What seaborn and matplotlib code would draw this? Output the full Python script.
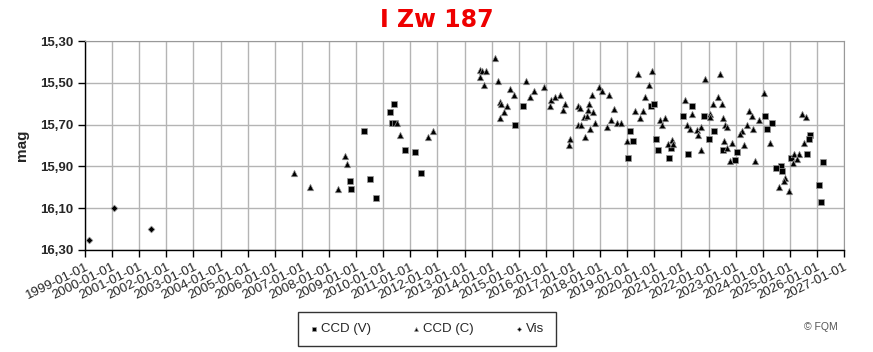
import pandas as pd
import matplotlib
matplotlib.use('Agg')
import matplotlib.pyplot as plt
import matplotlib.dates as mdates
from matplotlib.ticker import FuncFormatter, FixedLocator
import seaborn as sns

# CCD (V) squares
v_dates = ['2008-10-12', '2008-10-27', '2009-04-20', '2009-07-08', '2009-09-27',
           '2010-04-01', '2010-05-05', '2010-05-22', '2010-06-10', '2010-10-22',
           '2011-03-07', '2011-05-27', '2014-11-15', '2015-02-25', '2019-02-10',
           '2019-03-15', '2019-01-08', '2019-11-20', '2019-12-25', '2020-01-20',
           '2020-02-18', '2020-08-15', '2020-07-20', '2021-01-20', '2021-05-18',
           '2021-03-28', '2021-11-03', '2022-01-01', '2022-03-22', '2022-07-20',
           '2022-12-24', '2023-01-20', '2024-02-03', '2024-05-05', '2024-02-25',
           '2024-09-01', '2024-07-01', '2024-09-15', '2025-01-15', '2025-08-18',
           '2025-10-01', '2025-09-20', '2026-03-18', '2026-01-30', '2026-03-01']
v_mags = [15.97, 16.01, 15.73, 15.96, 16.05,
          15.64, 15.69, 15.60, 15.69, 15.82,
          15.83, 15.93, 15.70, 15.61, 15.73,
          15.78, 15.86, 15.61, 15.60, 15.77,
          15.82, 15.81, 15.86, 15.66, 15.61,
          15.84, 15.66, 15.77, 15.73, 15.82,
          15.87, 15.83, 15.66, 15.69, 15.72,
          15.90, 15.91, 15.92, 15.86, 15.84,
          15.75, 15.77, 15.88, 15.99, 16.07]

# CCD (C) triangles
c_dates = ['2006-09-16', '2007-04-20', '2008-05-08', '2008-08-10', '2008-08-25',
           '2010-07-08', '2010-08-15', '2011-08-30', '2011-11-03', '2013-08-01',
           '2013-08-28', '2013-10-12', '2013-07-30', '2013-09-20', '2014-02-17',
           '2014-04-01', '2014-09-05', '2014-10-30', '2014-04-22', '2014-05-08',
           '2014-07-30', '2014-06-10', '2014-04-24', '2015-04-08', '2015-07-26',
           '2015-06-02', '2015-12-10', '2016-03-14', '2016-05-05', '2016-07-12',
           '2016-02-28', '2016-09-17', '2016-08-25', '2016-11-03', '2016-11-25',
           '2017-03-08', '2017-03-14', '2017-04-09', '2017-06-03', '2017-07-12',
           '2017-07-26', '2017-08-08', '2017-09-20', '2017-10-04', '2017-10-26',
           '2017-04-20', '2017-08-18', '2017-06-14', '2017-12-20', '2018-01-22',
           '2018-05-05', '2018-07-09', '2018-05-30', '2018-08-22', '2018-10-05',
           '2018-04-09', '2019-05-22', '2019-11-28', '2019-10-22', '2019-08-28',
           '2019-04-20', '2019-08-08', '2019-06-25', '2019-01-04', '2020-03-20',
           '2020-05-26', '2020-04-20', '2020-07-08', '2020-08-22', '2020-09-12',
           '2021-02-20', '2021-05-30', '2021-03-14', '2021-05-01', '2021-08-04',
           '2021-09-24', '2021-08-18', '2021-09-25', '2021-11-18', '2022-01-22',
           '2022-03-08', '2022-06-06', '2022-05-15', '2022-07-08', '2022-01-15',
           '2022-07-09', '2022-08-14', '2022-09-05', '2022-07-30', '2022-11-20',
           '2022-09-12', '2023-05-01', '2022-10-12', '2024-01-18', '2023-07-01',
           '2023-08-08', '2023-11-06', '2023-06-10', '2023-08-30', '2023-03-25',
           '2023-03-03', '2024-04-12', '2023-09-20', '2024-10-30', '2024-10-08',
           '2024-08-12', '2024-12-25', '2025-02-20', '2025-05-08', '2025-04-05',
           '2025-02-10', '2025-07-06', '2025-06-20', '2025-08-04']
c_mags = [15.93, 16.00, 16.01, 15.85, 15.89,
          15.69, 15.75, 15.76, 15.73, 15.44,
          15.445, 15.445, 15.47, 15.51, 15.38,
          15.49, 15.53, 15.56, 15.59, 15.60,
          15.61, 15.64, 15.67, 15.49, 15.54,
          15.57, 15.52, 15.58, 15.57, 15.56,
          15.61, 15.60, 15.63, 15.80, 15.77,
          15.70, 15.61, 15.62, 15.665, 15.66,
          15.63, 15.60, 15.56, 15.64, 15.69,
          15.70, 15.72, 15.76, 15.52, 15.54,
          15.56, 15.625, 15.68, 15.69, 15.69,
          15.71, 15.46, 15.445, 15.51, 15.57,
          15.635, 15.635, 15.67, 15.78, 15.68,
          15.67, 15.70, 15.795, 15.775, 15.795,
          15.58, 15.65, 15.70, 15.72, 15.725,
          15.71, 15.75, 15.82, 15.48, 15.65,
          15.60, 15.46, 15.57, 15.60, 15.665,
          15.67, 15.70, 15.71, 15.78, 15.79,
          15.81, 15.80, 15.875, 15.55, 15.635,
          15.66, 15.68, 15.70, 15.72, 15.73,
          15.745, 15.79, 15.875, 15.955, 15.97,
          16.00, 16.02, 15.84, 15.84, 15.865,
          15.885, 15.79, 15.65, 15.665]

# Vis diamonds
vis_dates = ['1999-03-01', '2000-01-20', '2001-06-10']
vis_mags = [16.25, 16.10, 16.20]

y_ticks = [15.30, 15.50, 15.70, 15.90, 16.10, 16.30]
x_years = list(range(1999, 2028))

dfv = pd.DataFrame({'date': pd.to_datetime(v_dates), 'mag': v_mags})
dfc = pd.DataFrame({'date': pd.to_datetime(c_dates), 'mag': c_mags})
dfs = pd.DataFrame({'date': pd.to_datetime(vis_dates), 'mag': vis_mags})

sns.set_style("white")
plt.rcParams['font.family'] = ['Liberation Sans', 'DejaVu Sans']

fig = plt.figure(figsize=(8.73, 3.52), dpi=100)
ax = fig.add_axes([0.0974, 0.2898, 0.8694, 0.5937])

sns.scatterplot(data=dfv, x='date', y='mag', marker='s', s=18, color='black',
                edgecolor='#999999', linewidth=0.5, ax=ax, label='CCD (V)', zorder=3)
sns.scatterplot(data=dfc, x='date', y='mag', marker='^', s=22, color='black',
                edgecolor='#999999', linewidth=0.5, ax=ax, label='CCD (C)', zorder=3)
sns.scatterplot(data=dfs, x='date', y='mag', marker='D', s=12, color='black',
                edgecolor='#999999', linewidth=0.5, ax=ax, label='Vis', zorder=3)

ax.set_xlim(pd.Timestamp('1999-01-01'), pd.Timestamp('2027-01-01'))
ax.set_ylim(16.30, 15.30)
ax.yaxis.set_major_locator(FixedLocator(y_ticks))
ax.yaxis.set_major_formatter(FuncFormatter(lambda v, p: f"{v:.2f}".replace('.', ',')))
xt = [mdates.date2num(pd.Timestamp(f'{y}-01-01')) for y in x_years]
ax.set_xticks(xt)
ax.xaxis.set_major_formatter(mdates.DateFormatter('%Y-%m-%d'))

ax.grid(True, color='#b4b4b4', linewidth=1)
ax.set_axisbelow(True)
for s in ['top', 'right']:
    ax.spines[s].set_color('#999999')
for s in ['left', 'bottom']:
    ax.spines[s].set_color('black')
    ax.spines[s].set_linewidth(1)

ax.tick_params(axis='x', direction='out', length=5, width=1, color='black',
               labelsize=9.5, pad=3, bottom=True)
ax.tick_params(axis='y', direction='out', length=5, width=1, color='black',
               labelsize=9.5, left=True)
plt.setp(ax.get_xticklabels(), rotation=26, ha='right', rotation_mode='anchor')
plt.setp(ax.get_yticklabels(), fontweight='bold')

ax.set_xlabel('')
ax.set_ylabel('mag', fontsize=11, fontweight='bold', labelpad=8)
fig.text(0.5, 0.943, 'I Zw 187', color='#ee0000', fontsize=17, fontweight='bold',
         family='DejaVu Sans', ha='center', va='center')

leg = ax.legend(loc='center', bbox_to_anchor=(0.4886, 0.0653), bbox_transform=fig.transFigure,
                ncol=3, fontsize=9.5, frameon=True, fancybox=False, handlelength=0.8,
                handletextpad=0.15, columnspacing=3.0, borderpad=0.85, markerscale=0.6)
leg.get_frame().set_edgecolor('black')
leg.get_frame().set_linewidth(1)

fig.text(0.96, 0.071, '© FQM', fontsize=7.5, color='#555555', ha='right', va='center')

fig.savefig('out.png', dpi=100)
